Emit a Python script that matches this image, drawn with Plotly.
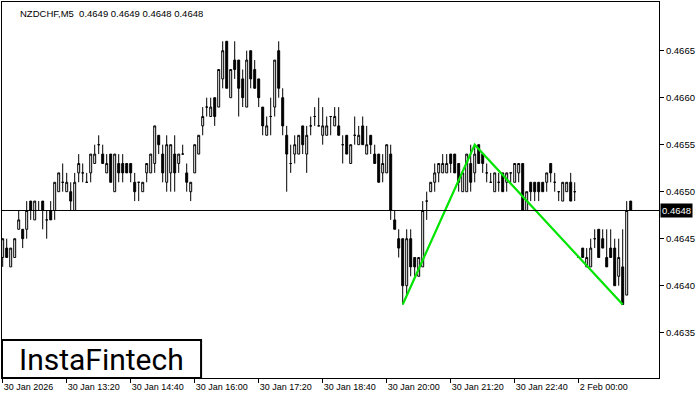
import numpy as np
import plotly.graph_objects as go

# ─── Data: NZDCHF M5, prices in pips (x 0.0001) ─────────────────────────────
OPEN = [
    4643, 4644, 4642, 4643, 4646, 4646, 4646, 4649, 4647, 4648, 4649, 4647, 4648, 4648, 4650, 4651,
    4650, 4650, 4648, 4652, 4652, 4651, 4652, 4653, 4655, 4654, 4652, 4654, 4650, 4653, 4653, 4653,
    4653, 4651, 4651, 4650, 4652, 4652, 4653, 4656, 4654, 4651, 4652, 4654, 4653, 4654, 4652, 4650,
    4652, 4654, 4657, 4659, 4658, 4660, 4659, 4662, 4666, 4660, 4664, 4664, 4662, 4659, 4665, 4663,
    4662, 4659, 4656, 4658, 4659, 4665, 4660, 4656, 4653, 4654, 4654, 4657, 4654, 4657, 4658, 4657,
    4656, 4656, 4658, 4657, 4657, 4655, 4656, 4653, 4656, 4655, 4657, 4654, 4656, 4654, 4654, 4652,
    4652, 4654, 4647, 4645, 4645, 4640, 4645, 4643, 4641, 4642, 4649, 4650, 4651, 4652, 4652, 4652,
    4654, 4654, 4653, 4650, 4650, 4653, 4652, 4655, 4654, 4652, 4651, 4650, 4651, 4652, 4651, 4652,
    4651, 4652, 4653, 4648, 4651, 4651, 4651, 4651, 4651, 4653, 4651, 4650, 4649, 4650, 4651, 4650,
    4643, 4644, 4642, 4642, 4645, 4646, 4645, 4643, 4644, 4644, 4641, 4642, 4639, 4649,
]
HIGH = [
    4645, 4645, 4644, 4645, 4648, 4646, 4649, 4649, 4649, 4649, 4649, 4648, 4649, 4651, 4652, 4653,
    4652, 4651, 4652, 4654, 4653, 4652, 4654, 4655, 4656, 4655, 4654, 4654, 4654, 4654, 4654, 4653,
    4653, 4652, 4651, 4651, 4653, 4654, 4657, 4656, 4655, 4656, 4655, 4656, 4654, 4655, 4653, 4651,
    4655, 4656, 4659, 4660, 4660, 4660, 4663, 4666, 4666, 4663, 4666, 4664, 4663, 4665, 4665, 4664,
    4662, 4659, 4658, 4660, 4664, 4666, 4661, 4657, 4655, 4656, 4656, 4657, 4657, 4658, 4659, 4660,
    4659, 4658, 4658, 4659, 4659, 4656, 4656, 4655, 4658, 4657, 4658, 4657, 4656, 4655, 4654, 4654,
    4655, 4655, 4648, 4646, 4645, 4646, 4646, 4643, 4643, 4649, 4650, 4651, 4653, 4653, 4654, 4654,
    4654, 4654, 4653, 4652, 4654, 4655, 4655, 4655, 4654, 4653, 4652, 4652, 4652, 4652, 4652, 4652,
    4653, 4653, 4653, 4650, 4651, 4651, 4651, 4651, 4652, 4653, 4652, 4650, 4651, 4651, 4652, 4651,
    4643, 4644, 4644, 4645, 4646, 4646, 4646, 4646, 4646, 4645, 4645, 4646, 4649, 4649,
]
LOW = [
    4642, 4643, 4642, 4643, 4646, 4644, 4645, 4647, 4647, 4648, 4646, 4645, 4647, 4647, 4650, 4650,
    4650, 4648, 4648, 4651, 4651, 4651, 4651, 4653, 4654, 4653, 4652, 4651, 4650, 4651, 4651, 4652,
    4651, 4649, 4649, 4650, 4651, 4652, 4652, 4654, 4651, 4650, 4650, 4650, 4652, 4654, 4650, 4649,
    4652, 4654, 4656, 4658, 4658, 4657, 4659, 4661, 4661, 4660, 4662, 4658, 4659, 4659, 4661, 4661,
    4659, 4656, 4656, 4656, 4658, 4660, 4656, 4650, 4652, 4653, 4654, 4654, 4652, 4656, 4657, 4657,
    4655, 4656, 4656, 4657, 4656, 4653, 4654, 4653, 4655, 4655, 4655, 4654, 4654, 4653, 4651, 4651,
    4652, 4647, 4646, 4643, 4638, 4639, 4641, 4641, 4641, 4642, 4647, 4650, 4650, 4651, 4652, 4652,
    4652, 4652, 4650, 4650, 4650, 4650, 4651, 4653, 4652, 4651, 4651, 4650, 4650, 4650, 4650, 4651,
    4651, 4651, 4648, 4648, 4649, 4649, 4649, 4650, 4650, 4651, 4650, 4649, 4649, 4650, 4649, 4649,
    4643, 4643, 4642, 4642, 4644, 4643, 4644, 4642, 4643, 4640, 4640, 4638, 4639, 4648,
]
CLOSE = [
    4645, 4643, 4644, 4645, 4647, 4645, 4648, 4648, 4649, 4648, 4648, 4647, 4647, 4651, 4652, 4651,
    4651, 4649, 4651, 4653, 4652, 4651, 4654, 4654, 4655, 4653, 4653, 4651, 4654, 4652, 4652, 4652,
    4652, 4650, 4651, 4651, 4653, 4654, 4657, 4655, 4652, 4655, 4655, 4652, 4654, 4654, 4651, 4651,
    4655, 4656, 4658, 4659, 4659, 4658, 4663, 4665, 4661, 4663, 4663, 4661, 4660, 4664, 4662, 4661,
    4660, 4657, 4657, 4658, 4664, 4661, 4657, 4654, 4653, 4655, 4656, 4655, 4656, 4657, 4658, 4657,
    4657, 4657, 4658, 4658, 4656, 4655, 4654, 4655, 4656, 4656, 4655, 4655, 4655, 4653, 4651, 4653,
    4655, 4648, 4646, 4644, 4640, 4645, 4642, 4642, 4643, 4648, 4649, 4651, 4652, 4653, 4653, 4653,
    4653, 4652, 4651, 4652, 4654, 4651, 4654, 4653, 4653, 4652, 4651, 4652, 4651, 4650, 4652, 4652,
    4653, 4653, 4648, 4650, 4650, 4650, 4650, 4650, 4652, 4652, 4651, 4650, 4651, 4651, 4649, 4650,
    4643, 4643, 4643, 4644, 4645, 4643, 4644, 4642, 4643, 4640, 4643, 4638, 4648, 4648,
]

# time axis: one bar per 5 min, label every 16 bars
TICK_POS = [0, 16, 32, 48, 64, 80, 96, 112, 128, 144]
TICK_LABELS = ["30 Jan 2026", "30 Jan 13:20", "30 Jan 14:40", "30 Jan 16:00", "30 Jan 17:20",
               "30 Jan 18:40", "30 Jan 20:00", "30 Jan 21:20", "30 Jan 22:40", "2 Feb 00:00"]
PRICE_TICKS = [0.4635, 0.4640, 0.4645, 0.4650, 0.4655, 0.4660, 0.4665]

# double bottom pattern (bar index, price)
PATTERN_X = [100, 118, 155]
PATTERN_Y = [0.4638, 0.4655, 0.4638]

CURRENT_PRICE = 0.4648
HEADER = "NZDCHF,M5  0.4649 0.4649 0.4648 0.4648"

# ─── Figure ──────────────────────────────────────────────────────────────────
FONT = "Liberation Sans, Arial, sans-serif"
x = np.arange(len(OPEN))
o, h, l, c = (np.array(a) / 10000 for a in (OPEN, HIGH, LOW, CLOSE))

fig = go.Figure()
fig.add_trace(go.Candlestick(
    x=x, open=o, high=h, low=l, close=c,
    increasing=dict(line=dict(color="black", width=1), fillcolor="white"),
    decreasing=dict(line=dict(color="black", width=1), fillcolor="black"),
    showlegend=False, hoverinfo="skip",
))
fig.add_trace(go.Scatter(
    x=PATTERN_X, y=PATTERN_Y, mode="lines",
    line=dict(color="#00E400", width=2.2),
    showlegend=False, hoverinfo="skip",
))

# bid line
fig.add_shape(type="line", xref="paper", x0=0, x1=1, y0=CURRENT_PRICE, y1=CURRENT_PRICE,
              line=dict(color="black", width=1))
# logo box
fig.add_shape(type="rect", xref="paper", yref="paper", x0=0, x1=0.303, y0=0, y1=0.101,
              fillcolor="white", line=dict(color="black", width=2), layer="above")
fig.add_annotation(xref="paper", yref="paper", x=0.151, y=0.05, xanchor="center", yanchor="middle",
                   text="InstaFintech", showarrow=False,
                   font=dict(family="Roboto", size=30, color="black"))
fig.add_annotation(xref="paper", yref="paper", x=0.024, y=0.99, xanchor="left", yanchor="top",
                   text=HEADER, showarrow=False, font=dict(family=FONT, size=9.5, color="black"))
fig.add_annotation(xref="paper", x=1, y=CURRENT_PRICE, xanchor="left", xshift=1,
                   text=f"{CURRENT_PRICE:.4f}", showarrow=False, bgcolor="black", borderpad=1,
                   font=dict(family=FONT, size=9.5, color="white"))

fig.update_layout(
    width=700, height=400,
    paper_bgcolor="white", plot_bgcolor="white",
    margin=dict(l=2, r=41, t=2, b=22),
    font=dict(family=FONT, size=9, color="black"),
    xaxis=dict(
        range=[-0.175, 164.075], rangeslider=dict(visible=False),
        tickvals=TICK_POS, ticktext=TICK_LABELS, ticklabelposition="outside right",
        ticks="outside", ticklen=4, tickcolor="black",
        showgrid=False, zeroline=False,
        showline=True, linecolor="black", linewidth=1, mirror=True,
    ),
    yaxis=dict(
        range=[0.463018, 0.467018], side="right",
        tickvals=PRICE_TICKS, tickformat=".4f",
        ticks="outside", ticklen=4, tickcolor="black",
        showgrid=False, zeroline=False,
        showline=True, linecolor="black", linewidth=1, mirror=True,
        tickfont=dict(size=9.5),
    ),
)

fig.write_html("out.html", config={"displayModeBar": False},
               post_script="document.body.style.margin='0';")
